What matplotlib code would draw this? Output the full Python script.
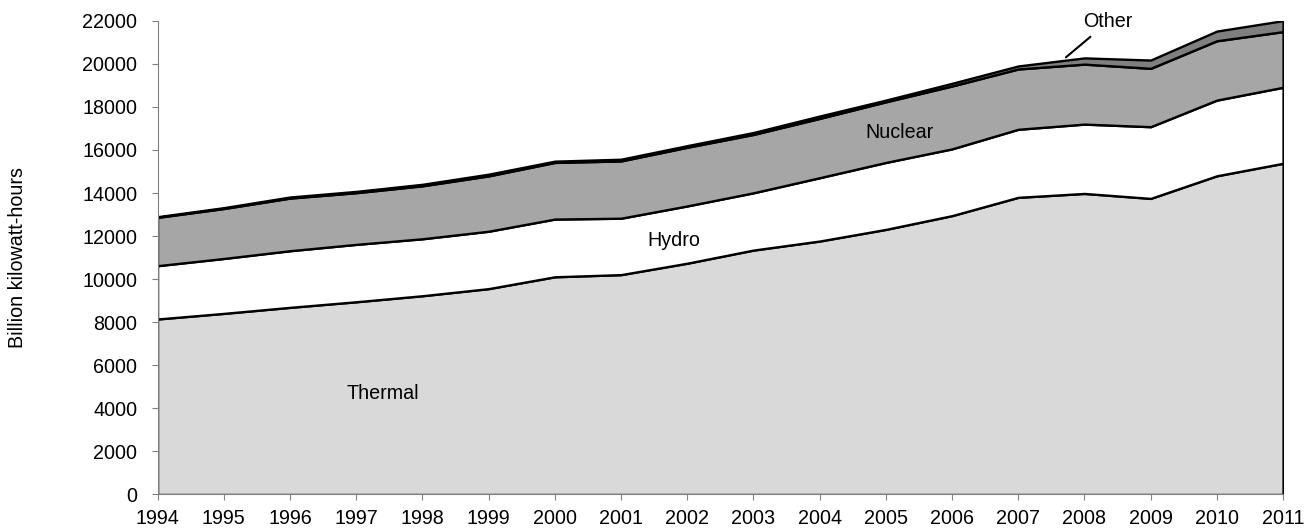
import matplotlib.pyplot as plt
import numpy as np

plt.rcParams['font.family'] = ['Liberation Sans', 'DejaVu Sans']

# world net electricity generation by source, billion kWh
years = np.arange(1994, 2012)
thermal = [8150, 8410, 8690, 8950, 9230, 9560, 10110, 10210, 10740,
           11350, 11770, 12310, 12950, 13800, 13980, 13750, 14800, 15380]
hydro = [2475, 2550, 2630, 2665, 2645, 2665, 2680, 2620, 2660,
         2660, 2940, 3110, 3100, 3160, 3220, 3330, 3515, 3530]
nuclear = [2245, 2320, 2445, 2400, 2460, 2570, 2630, 2660, 2725,
           2710, 2755, 2815, 2920, 2800, 2785, 2710, 2755, 2585]
other = [30, 40, 50, 60, 70, 80, 60, 80, 75,
         90, 110, 80, 125, 140, 290, 385, 450, 510]
labels = ['Thermal', 'Hydro', 'Nuclear', 'Other']
colors = ['#d9d9d9', '#ffffff', '#a6a6a6', '#7f7f7f']

fs = 14.2

fig = plt.figure(figsize=(13.15, 5.32), dpi=100)
ax = fig.add_axes([0.1198, 0.0705, 0.8559, 0.8905])

ax.stackplot(years, thermal, hydro, nuclear, other, colors=colors,
             edgecolor='black', linewidth=1.7, labels=labels)

ax.set_xlim(1994, 2011)
ax.set_ylim(0, 22000)
ax.set_xticks(years)
ax.set_yticks(np.arange(0, 22001, 2000))
ax.tick_params(labelsize=fs, length=4, color='#808080')
ax.tick_params(axis='y', pad=10.5)
ax.tick_params(axis='x', pad=6.5)
ax.set_ylabel('Billion kilowatt-hours', fontsize=fs)
ax.yaxis.set_label_coords(-0.116, 0.5)

for s in ['top', 'right']:
    ax.spines[s].set_visible(False)
for s in ['left', 'bottom']:
    ax.spines[s].set_color('#808080')

ax.text(1997.4, 4700, 'Thermal', fontsize=fs, ha='center', va='center')
ax.text(2001.8, 11800, 'Hydro', fontsize=fs, ha='center', va='center')
ax.text(2005.2, 16800, 'Nuclear', fontsize=fs, ha='center', va='center')
ax.annotate('Other', xy=(2007.72, 20300), xytext=(2008.36, 21950),
            fontsize=fs, ha='center', va='center', annotation_clip=False,
            arrowprops=dict(arrowstyle='-', color='black', lw=1.5,
                            shrinkA=3, shrinkB=0))

fig.savefig('out.png', dpi=100)
